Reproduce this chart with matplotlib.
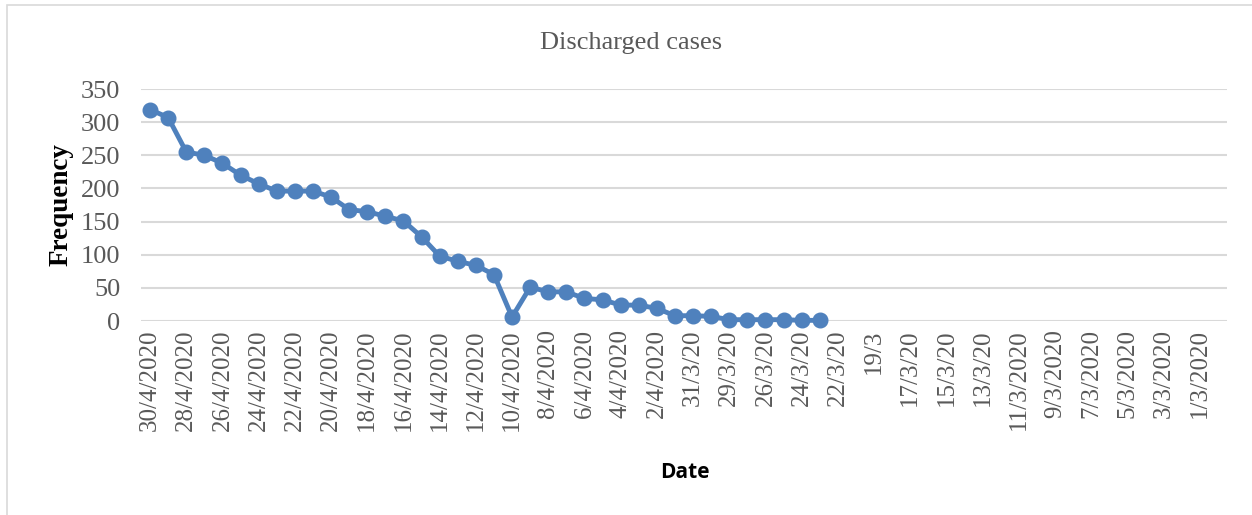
import matplotlib.pyplot as plt
from matplotlib.patches import Rectangle

# categories (descending dates), only every other one gets a label in the chart
dates = ['30/4/2020', '29/4/2020', '28/4/2020', '27/4/2020', '26/4/2020', '25/4/2020',
         '24/4/2020', '23/4/2020', '22/4/2020', '21/4/2020', '20/4/2020', '19/4/2020',
         '18/4/2020', '17/4/2020', '16/4/2020', '15/4/2020', '14/4/2020', '13/4/2020',
         '12/4/2020', '11/4/2020', '10/4/2020', '9/4/2020', '8/4/2020', '7/4/2020',
         '6/4/2020', '5/4/2020', '4/4/2020', '3/4/2020', '2/4/2020', '1/4/2020',
         '31/3/20', '30/3/20', '29/3/20', '27/3/20', '26/3/20', '25/3/20',
         '24/3/20', '23/3/20', '22/3/20', '20/3/20', '19/3', '18/3/20',
         '17/3/20', '16/3/20', '15/3/20', '14/3/20', '13/3/20', '12/3/2020',
         '11/3/2020', '10/3/2020', '9/3/2020', '8/3/2020', '7/3/2020', '6/3/2020',
         '5/3/2020', '4/3/2020', '3/3/2020', '2/3/2020', '1/3/2020', '']

discharged = [319, 307, 255, 250, 238, 220, 207, 196, 196, 196,
              187, 168, 165, 158, 151, 127, 98, 90, 84, 70,
              6, 51, 44, 44, 34, 32, 24, 24, 19, 8,
              8, 7, 2, 2, 2, 2, 1, 1]

yticks = [0, 50, 100, 150, 200, 250, 300, 350]

fig = plt.figure(figsize=(12.52, 5.15), dpi=100)
fig.patches.append(Rectangle((7 / 1252, -0.1), 1.2, (510 / 515) + 0.1,
                             transform=fig.transFigure, fill=False,
                             edgecolor='#d9d9d9', linewidth=1.2))
ax = fig.add_axes([141 / 1252, 1 - 321 / 515, (1227 - 141) / 1252, (321 - 89) / 515])

x = list(range(len(discharged)))
ax.plot(x, discharged, color='#4f81bd', linewidth=3.5, marker='o', markersize=10.5,
        clip_on=False, zorder=3)

ax.set_xlim(-0.5, len(dates) - 0.5)
ax.set_ylim(0, 350)
ax.set_yticks(yticks)
ax.set_yticklabels([str(v) for v in yticks], fontsize=19, color='#595959',
                   family='Liberation Serif')
ax.set_xticks(range(0, len(dates), 2))
ax.set_xticklabels(dates[::2], rotation=90, fontsize=18, color='#595959',
                   family='Liberation Serif')
ax.tick_params(length=0, pad=6)
ax.tick_params(axis='y', pad=15)
ax.grid(axis='y', color='#d9d9d9', linewidth=1.5)
ax.set_axisbelow(True)
for s in ax.spines.values():
    s.set_visible(False)

fig.text(631 / 1252, 1 - 43 / 515, 'Discharged cases', ha='center', va='center',
         fontsize=19, color='#595959', family='Liberation Serif')
ax.set_ylabel('Frequency', fontsize=19.5, fontweight='bold', family='Liberation Serif', labelpad=5)
fig.text(685 / 1252, 1 - 472 / 515, 'Date', ha='center', va='center', fontsize=15,
         fontweight='bold', family='Open Sans')

fig.savefig('out.png', dpi=100)
